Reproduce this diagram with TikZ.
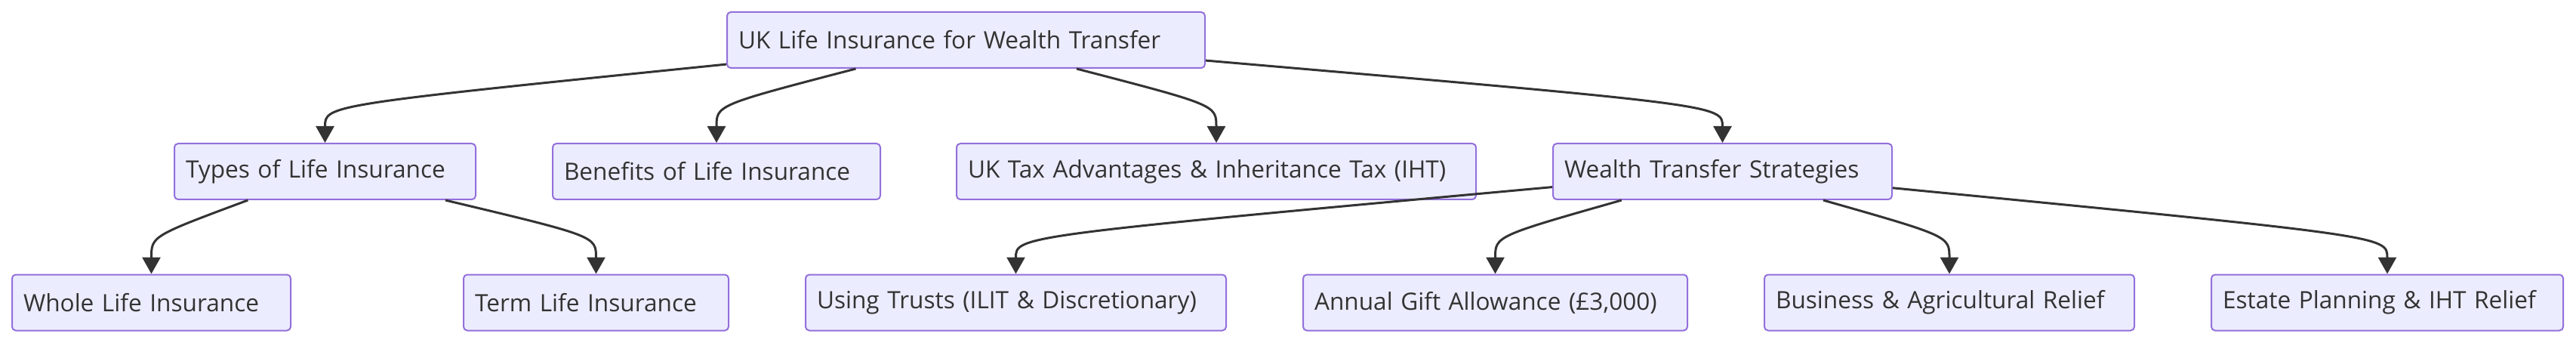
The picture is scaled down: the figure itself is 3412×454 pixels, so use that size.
\documentclass[tikz,border=0pt]{standalone}
\usepackage{fontspec}
\setmainfont{Open Sans}
\usetikzlibrary{arrows.meta}

\begin{document}
\begin{tikzpicture}[x=1pt,y=-1pt,
  box/.style={draw=boxline,fill=boxfill,line width=2pt,rounded corners=5pt,
    minimum height=74pt,inner xsep=15pt,inner ysep=0pt,align=left,
    text=ink,font=\fontsize{31.6}{38}\selectfont},
  link/.style={draw=ink,line width=3pt,-{Triangle[length=22pt,width=24pt]}}]
\definecolor{boxline}{HTML}{9370DB}
\definecolor{boxfill}{HTML}{ECECFF}
\definecolor{ink}{HTML}{333333}
\useasboundingbox (0,0) rectangle (3412,454);
\node [box,text width=603pt] (top) at (1279.5,53) {UK Life Insurance for Wealth Transfer};
  \foreach \nm/\xx/\ww/\txt in {types/430.5/369/Types of Life Insurance,
      benefits/949/404/Benefits of Life Insurance,
      tax/1611/658/UK Tax Advantages \& Inheritance Tax (IHT),
      wealth/2281.5/419/Wealth Transfer Strategies}
  {  \node [box,text width=\ww pt] (\nm) at (\xx,227) {\txt};}
  \foreach \nm/\xx/\ww/\txt in {whole/200.5/339/Whole Life Insurance,
      term/789.5/321/Term Life Insurance,
      trusts/1345.5/527/Using Trusts (ILIT \& Discretionary),
      gift/1980.5/479/{Annual Gift Allowance (£3,000)},
      business/2582/460/Business \& Agricultural Relief,
      estate/3162/436/Estate Planning \& IHT Relief}
  {  \node [box,text width=\ww pt] (\nm) at (\xx,400.5) {\txt};}
  \foreach \kid in {types,benefits,tax,wealth}
  {  \draw [link] (top) .. controls ([yshift=50pt]\kid.north) .. (\kid.north);}
  \foreach \kid in {whole,term}
  {  \draw [link] (types) .. controls ([yshift=50pt]\kid.north) .. (\kid.north);}
  \foreach \kid in {trusts,gift,business,estate}
  {  \draw [link] (wealth) .. controls ([yshift=50pt]\kid.north) .. (\kid.north);}
\end{tikzpicture}
\end{document}
